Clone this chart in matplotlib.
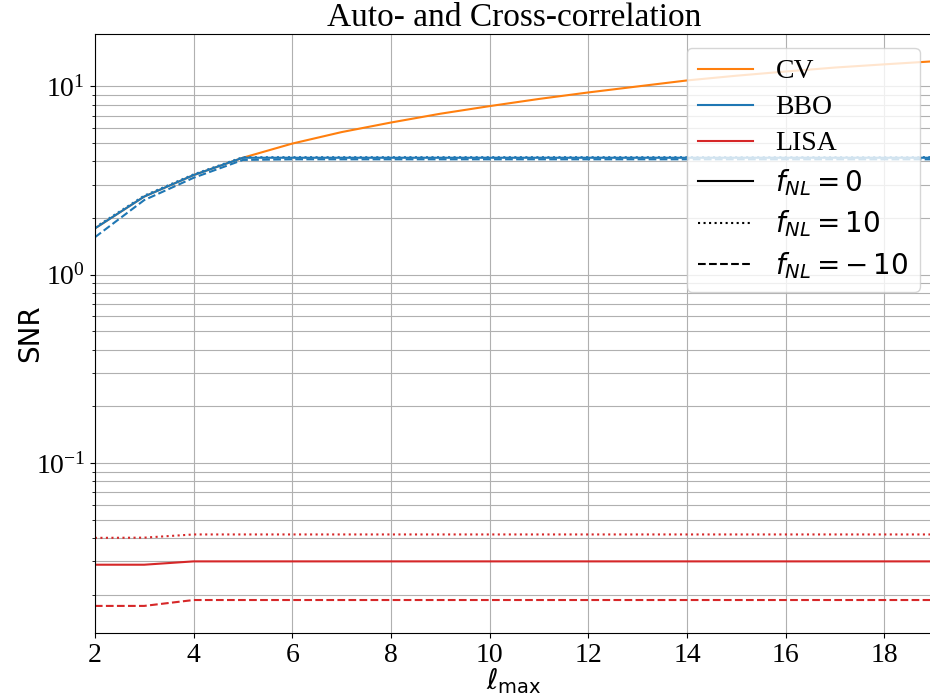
import matplotlib
matplotlib.use('Agg')
import matplotlib.pyplot as plt
from matplotlib.lines import Line2D

plt.rcParams['font.family'] = 'serif'
plt.rcParams['font.serif'] = ['Liberation Serif', 'DejaVu Serif']
plt.rcParams['mathtext.fontset'] = 'dejavusans'

ell = [2, 3, 4, 5, 6, 7, 8, 9, 10, 11, 12, 13, 14, 15, 16, 17, 18, 19]

cv = [1.76, 2.60, 3.38, 4.18, 4.97, 5.72, 6.43, 7.16, 7.86, 8.58,
      9.29, 10.0, 10.76, 11.4, 12.0, 12.6, 13.1, 13.6]

bbo_0 = [1.76, 2.60, 3.38, 4.18, 4.18, 4.18, 4.18, 4.18, 4.18, 4.18,
         4.18, 4.18, 4.18, 4.18, 4.18, 4.18, 4.18, 4.18]
bbo_10 = [1.78, 2.63, 3.41, 4.21, 4.21, 4.21, 4.21, 4.21, 4.21, 4.21,
          4.21, 4.21, 4.21, 4.21, 4.21, 4.21, 4.21, 4.21]
bbo_m10 = [1.58, 2.49, 3.27, 4.07, 4.10, 4.10, 4.10, 4.10, 4.10, 4.10,
           4.10, 4.10, 4.10, 4.10, 4.10, 4.10, 4.10, 4.10]

lisa_0 = [0.0288, 0.0288, 0.0300, 0.0300, 0.0300, 0.0300, 0.0300, 0.0300, 0.0300,
          0.0300, 0.0300, 0.0300, 0.0300, 0.0300, 0.0300, 0.0300, 0.0300, 0.0300]
lisa_10 = [0.0400, 0.0401, 0.0417, 0.0417, 0.0417, 0.0417, 0.0417, 0.0417, 0.0417,
           0.0417, 0.0417, 0.0417, 0.0417, 0.0417, 0.0417, 0.0417, 0.0417, 0.0417]
lisa_m10 = [0.0174, 0.0174, 0.0187, 0.0187, 0.0187, 0.0187, 0.0187, 0.0187, 0.0187,
            0.0187, 0.0187, 0.0187, 0.0187, 0.0187, 0.0187, 0.0187, 0.0187, 0.0187]

fig = plt.figure(figsize=(9.3, 6.95), dpi=100)
ax = fig.add_axes([0.102, 0.089, 0.902, 0.862])

ax.plot(ell, cv, color='tab:orange')
ax.plot(ell, bbo_0, color='tab:blue', ls='-')
ax.plot(ell, bbo_10, color='tab:blue', ls=':')
ax.plot(ell, bbo_m10, color='tab:blue', ls='--')
ax.plot(ell, lisa_0, color='tab:red', ls='-')
ax.plot(ell, lisa_10, color='tab:red', ls=':')
ax.plot(ell, lisa_m10, color='tab:red', ls='--')

ax.set_yscale('log')
ax.set_xlim(2, 19)
ax.set_xticks([2, 4, 6, 8, 10, 12, 14, 16, 18])
ax.grid(True, which='both')
ax.tick_params(labelsize=20)

ax.set_title('Auto- and Cross-correlation', fontsize=24)
ax.set_xlabel(r'$\ell_{\rm max}$', fontsize=20, labelpad=-1)
ax.set_ylabel('SNR', fontsize=20, fontfamily='DejaVu Sans', labelpad=-6)

handles = [
    Line2D([], [], color='tab:orange'),
    Line2D([], [], color='tab:blue'),
    Line2D([], [], color='tab:red'),
    Line2D([], [], color='k', ls='-'),
    Line2D([], [], color='k', ls=':'),
    Line2D([], [], color='k', ls='--'),
]
labels = ['CV', 'BBO', 'LISA', r'$f_{NL} = 0$', r'$f_{NL} = 10$', r'$f_{NL} = -\,10$']
ax.legend(handles, labels, loc='upper right', fontsize=20, labelspacing=0.38)

fig.savefig('out.png', dpi=100)
